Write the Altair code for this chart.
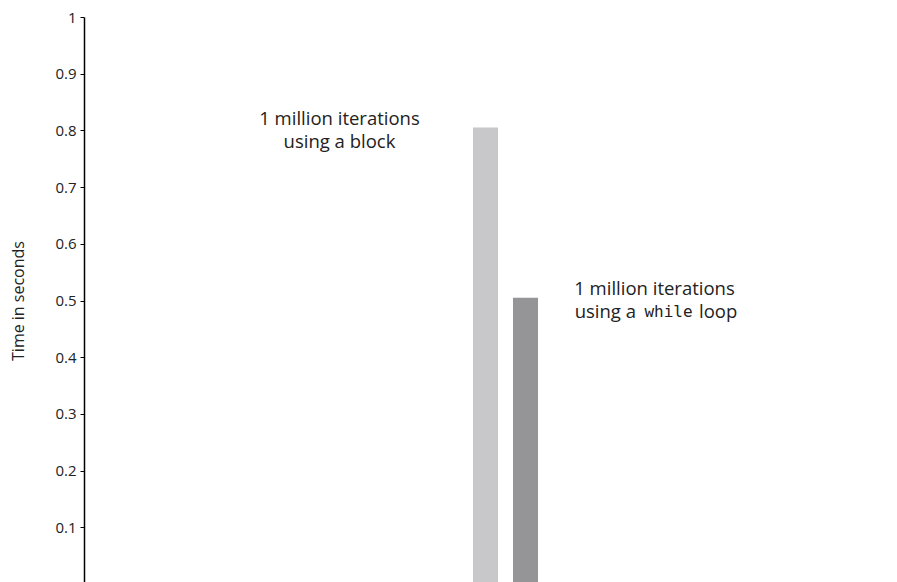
import altair as alt
import pandas as pd

methods = ["block", "while"]
times = [0.805, 0.505]
colors = ["#c8c8ca", "#959598"]
y_ticks = [0.1, 0.2, 0.3, 0.4, 0.5, 0.6, 0.7, 0.8, 0.9, 1.0]

bars_df = pd.DataFrame({"method": methods, "time": times})

FONT = "Open Sans"
MONO = "DejaVu Sans Mono"

xscale = alt.Scale(domain=methods, range=[389, 454], paddingInner=0.375, paddingOuter=0)
yscale = alt.Scale(domain=[0, 1], nice=False)

base = alt.Chart(bars_df)

bars = base.mark_bar().encode(
    x=alt.X("method:N", scale=xscale, axis=None),
    y=alt.Y(
        "time:Q",
        scale=yscale,
        axis=alt.Axis(
            title="Time in seconds",
            values=y_ticks,
            labelExpr="datum.value == 1 ? '1' : format(datum.value, '.1f')",
            grid=False,
            domainColor="#000000",
            domainWidth=1.5,
            tickColor="#000000",
            tickSize=4,
            labelPadding=4,
            labelFontSize=15,
            labelColor="#222222",
            labelFont=FONT,
            titleFont=FONT,
            titleFontSize=16,
            titleFontWeight="normal",
            titleColor="#222222",
            titlePadding=28,
        ),
    ),
    color=alt.Color("method:N", scale=alt.Scale(domain=methods, range=colors), legend=None),
)

def label(method, text, dx, dy, align="center", font=FONT, size=18.5):
    d = bars_df[bars_df.method == method].assign(txt=text)
    return alt.Chart(d).mark_text(
        align=align, baseline="middle", dx=dx, dy=dy, font=font, fontSize=size, color="#222222"
    ).encode(
        x=alt.X("method:N", scale=xscale, axis=None),
        y=alt.Y("time:Q", scale=yscale),
        text="txt:N",
    )

labels = [
    label("block", "1 million iterations", -146, -9),
    label("block", "using a block", -146, 14),
    label("while", "1 million iterations", 129, -9),
    label("while", "using a", 110.5, 14, align="right"),
    label("while", "while", 143, 14, font=MONO, size=16),
    label("while", "loop", 173.5, 14, align="left"),
]

chart = alt.layer(bars, *labels).properties(
    width=800,
    height=567,
    autosize=alt.AutoSizeParams(type="none"),
    padding={"left": 76, "top": 9, "right": 0, "bottom": 0},
).configure_view(stroke=None)

chart.save("out.html", embed_options={"renderer": "svg", "actions": False})
